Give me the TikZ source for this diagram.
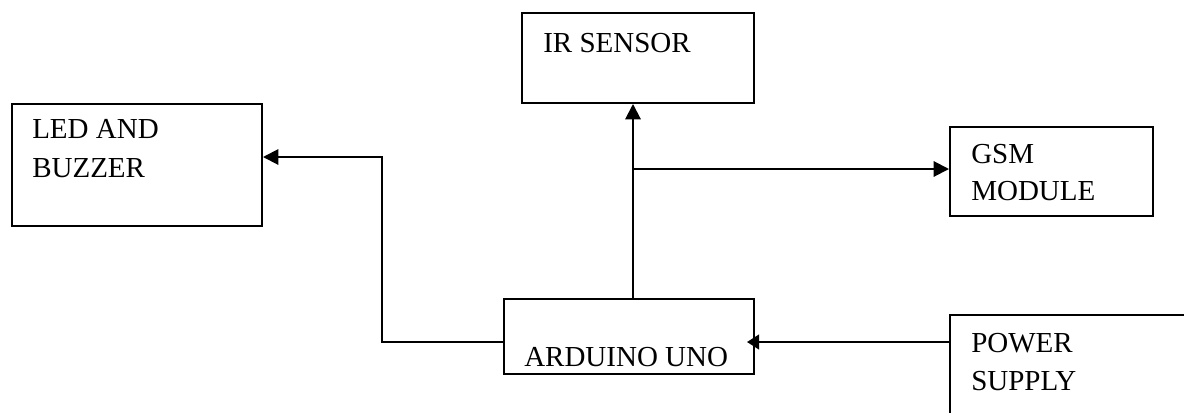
\documentclass[tikz,border=0pt]{standalone}
\usepackage{fontspec}
\setmainfont{Liberation Serif}
\usetikzlibrary{arrows.meta}
\begin{document}
\begin{tikzpicture}[x=0.75pt,y=-0.75pt,
  box/.style={draw,line width=1.5pt,rectangle,inner sep=0pt,anchor=north west},
  txt/.style={inner sep=0pt,anchor=base west,font=\fontsize{21.75pt}{28.5pt}\selectfont},
  conn/.style={line width=1.5pt},
  arr/.style={conn,-{Triangle[length=11.5pt,width=11.5pt]}},
  arrs/.style={conn,-{Triangle[length=9pt,width=11pt]}}]
\useasboundingbox (0,0) rectangle (1184,412);
\clip (0,0) rectangle (1184,412);
% boxes
\node[box,minimum width=187.5pt,minimum height=91.5pt] (led) at (11,103) {};
\node[box,minimum width=174pt,minimum height=67.5pt] (ir) at (521,12) {};
\node[box,minimum width=152.25pt,minimum height=66.75pt] (gsm) at (949,126) {};
\node[box,minimum width=187.5pt,minimum height=56.25pt] (ard) at (503,298) {};
\node[box,minimum width=225pt,minimum height=112.5pt] (pow) at (949,314) {};
% texts
\node[txt] (ledA) at (32,138) {LED AND};
\node[txt] (ledB) at (32,177) {BUZZER};
\node[txt] (irT) at (543,52) {IR SENSOR};
\node[txt] (gsmA) at (971,163) {GSM};
\node[txt] (gsmB) at (971,200) {MODULE};
\node[txt] (ardT) at (524,366) {ARDUINO UNO};
\node[txt] (powA) at (971,352) {POWER};
\node[txt] (powB) at (971,390) {SUPPLY};
% connectors
\coordinate (tap) at (633,169);
\coordinate (lcorner) at (382,342);
\coordinate (ltop) at (382,157);
\coordinate (pin) at (949,342);
\draw[arr] (ard.north -| tap) -- (ir.south -| tap);
\draw[arr] (tap) -- (tap -| gsm.west);
\draw[arr] (lcorner -| ard.west) -- (lcorner) -- (ltop) -- (ltop -| led.east);
\draw[arrs,shorten >=-6pt] (pin) -- (pin -| ard.east);
\end{tikzpicture}
\end{document}
